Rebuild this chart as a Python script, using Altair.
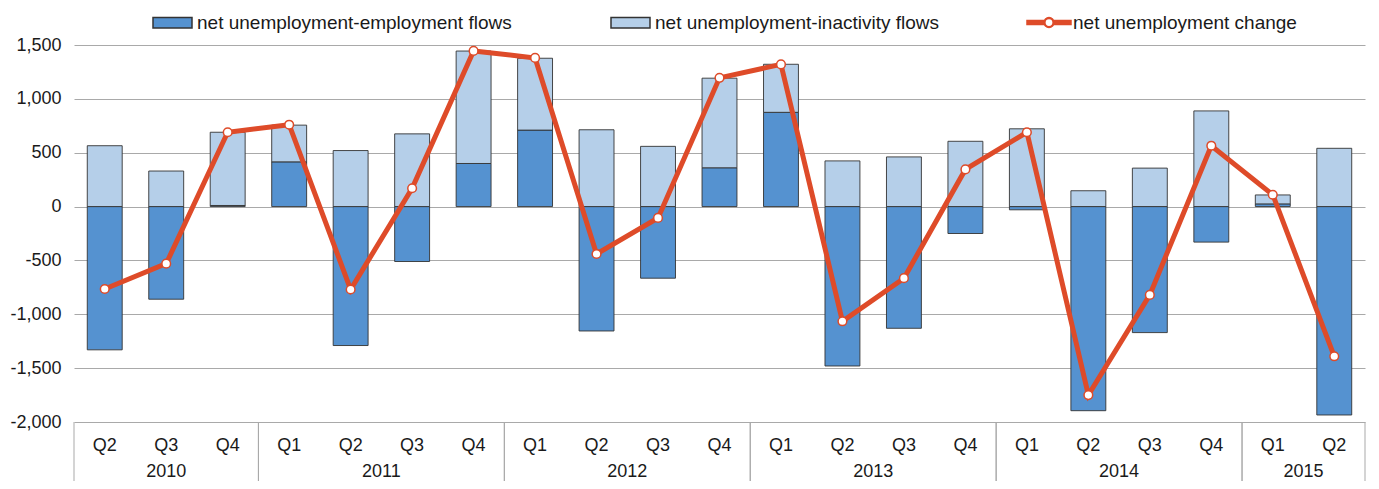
import altair as alt
import pandas as pd

# ---------------- data ----------------
quarters = ["Q2", "Q3", "Q4",
            "Q1", "Q2", "Q3", "Q4",
            "Q1", "Q2", "Q3", "Q4",
            "Q1", "Q2", "Q3", "Q4",
            "Q1", "Q2", "Q3", "Q4",
            "Q1", "Q2"]
years = [2010] * 3 + [2011] * 4 + [2012] * 4 + [2013] * 4 + [2014] * 4 + [2015] * 2

emp_flows = [-1330, -860, 10, 415, -1290, -510, 400, 710, -1155, -665, 360,
             875, -1480, -1130, -250, -30, -1895, -1170, -330, 25, -1935]
inact_flows = [565, 330, 680, 341, 520, 675, 1044, 667, 713, 559, 832,
               446, 424, 461, 606, 722, 147, 357, 888, 83, 541]
net_change = [-765, -530, 690, 760, -770, 170, 1445, 1380, -440, -105, 1195,
              1320, -1065, -665, 345, 690, -1750, -820, 565, 110, -1390]

SER_EMP = "net unemployment-employment flows"
SER_INA = "net unemployment-inactivity flows"
SER_CHG = "net unemployment change"
y_ticks = [-2000, -1500, -1000, -500, 0, 500, 1000, 1500]

# ---------------- styling ----------------
FONT = "Liberation Sans"
TXT = "#1a1a1a"
GRID = "#a9a9a9"
DARK = "#5592d0"
LIGHT = "#b5cfe9"
ORANGE = "#de4b29"
BAR_EDGE = "#333333"
W, H = 1291, 377
BAR_HALF = 0.284

# custom legend symbols (unit = sqrt(size)/2 px)
RECT_PATH = "M-1.727,-0.97H5.364V0.97H-1.727Z"
LINE_PATH = ("M-1.727,-0.36H1.373V0.36H-1.727Z "
             "M3.173,-0.36H6.273V0.36H3.173Z "
             "M3.173,0A0.9,0.9 0 1,1 1.373,0A0.9,0.9 0 1,1 3.173,0Z "
             "M3.023,0A0.75,0.75 0 1,0 1.523,0A0.75,0.75 0 1,0 3.023,0Z")

# ---------------- tables built from the lists ----------------
idx = list(range(len(quarters)))
rows = []
for i, e, a in zip(idx, emp_flows, inact_flows):
    rows.append({"idx": i, "series": SER_EMP, "lo": 0, "hi": e})
    base = e if (e > 0) == (a > 0) else 0
    rows.append({"idx": i, "series": SER_INA, "lo": base, "hi": base + a})
bars_df = pd.DataFrame(rows)
line_df = pd.DataFrame({"idx": idx, "change": net_change, "series": SER_CHG})
cat_df = pd.DataFrame({"idx": idx, "quarter": quarters, "year": [str(y) for y in years]})

xscale = alt.Scale(domain=[-0.5, len(quarters) - 0.5], nice=False, zero=False)
yscale = alt.Scale(domain=[y_ticks[0], y_ticks[-1]], nice=False, zero=False)
yaxis = alt.Axis(values=y_ticks,
                 labelExpr="replace(format(datum.value, ','), '\u2212', '-')",
                 labelFontSize=18, labelFont=FONT, labelColor=TXT,
                 grid=True, gridColor=GRID, gridWidth=1,
                 domain=False, ticks=False, tickSize=0, labelPadding=13)

bars = alt.Chart(bars_df).transform_calculate(
    x0=f"datum.idx - {BAR_HALF}", x1=f"datum.idx + {BAR_HALF}"
).mark_bar(stroke=BAR_EDGE, strokeWidth=0.9).encode(
    x=alt.X("x0:Q", scale=xscale, axis=None),
    x2="x1:Q",
    y=alt.Y("lo:Q", scale=yscale, title=None, axis=yaxis),
    y2="hi:Q",
    fill=alt.Fill("series:N",
                  scale=alt.Scale(domain=[SER_EMP, SER_INA], range=[DARK, LIGHT]),
                  legend=alt.Legend(orient="none", legendX=79, legendY=-32,
                                    direction="horizontal", title=None,
                                    labelFontSize=19, labelFont=FONT, labelColor=TXT,
                                    labelLimit=0, symbolType=RECT_PATH, symbolSize=121,
                                    labelOffset=25, columnPadding=96)),
)

line = alt.Chart(line_df).mark_line().encode(
    x=alt.X("idx:Q", scale=xscale, axis=None),
    y=alt.Y("change:Q", scale=yscale, title=None, axis=yaxis),
    stroke=alt.Stroke("series:N",
                      scale=alt.Scale(domain=[SER_CHG], range=[ORANGE]),
                      legend=alt.Legend(orient="none", legendX=953, legendY=-32,
                                        direction="horizontal", title=None,
                                        labelFontSize=19, labelFont=FONT, labelColor=TXT,
                                        labelLimit=0, symbolType=LINE_PATH, symbolSize=121,
                                        symbolFillColor=ORANGE, symbolStrokeWidth=1.5,
                                        labelOffset=27)),
    strokeWidth=alt.value(5),
)

points = alt.Chart(line_df).mark_point(
    filled=True, fill="white", stroke=ORANGE, strokeWidth=1.5, size=75, opacity=1
).encode(
    x=alt.X("idx:Q", scale=xscale, axis=None),
    y=alt.Y("change:Q", scale=yscale, title=None, axis=yaxis),
)

qlabels = alt.Chart(cat_df).mark_text(
    fontSize=18, font=FONT, color=TXT, baseline="middle"
).encode(
    x=alt.X("idx:Q", scale=xscale, axis=None),
    y=alt.value(H + 24),
    text="quarter:N",
)

ylabels = alt.Chart(cat_df).transform_aggregate(
    mid="mean(idx)", groupby=["year"]
).mark_text(fontSize=18, font=FONT, color=TXT, baseline="middle").encode(
    x=alt.X("mid:Q", scale=xscale, axis=None),
    y=alt.value(H + 50),
    text="year:N",
)

# year separators below the plot: left and right edge of every year group
seps = alt.Chart(cat_df).transform_aggregate(
    first="min(idx)", last="max(idx)", groupby=["year"]
).transform_calculate(
    left="datum.first - 0.5", right="datum.last + 0.5"
).transform_fold(["left", "right"], as_=["side", "edge"]).mark_rule(
    color=GRID, strokeWidth=1
).encode(
    x=alt.X("edge:Q", scale=xscale, axis=None),
    y=alt.value(H),
    y2=alt.value(H + 60),
)

chart = alt.layer(bars, seps, qlabels, ylabels, line, points).resolve_scale(
    y="shared", x="shared"
).properties(
    width=W, height=H,
    autosize=alt.AutoSizeParams(type="none"),
    padding={"left": 66, "top": 37, "right": 6, "bottom": 59},
).configure(font=FONT).configure_view(stroke="transparent", strokeWidth=0, strokeOpacity=0)

chart.save("out.html", embed_options={"renderer": "svg", "actions": False})
